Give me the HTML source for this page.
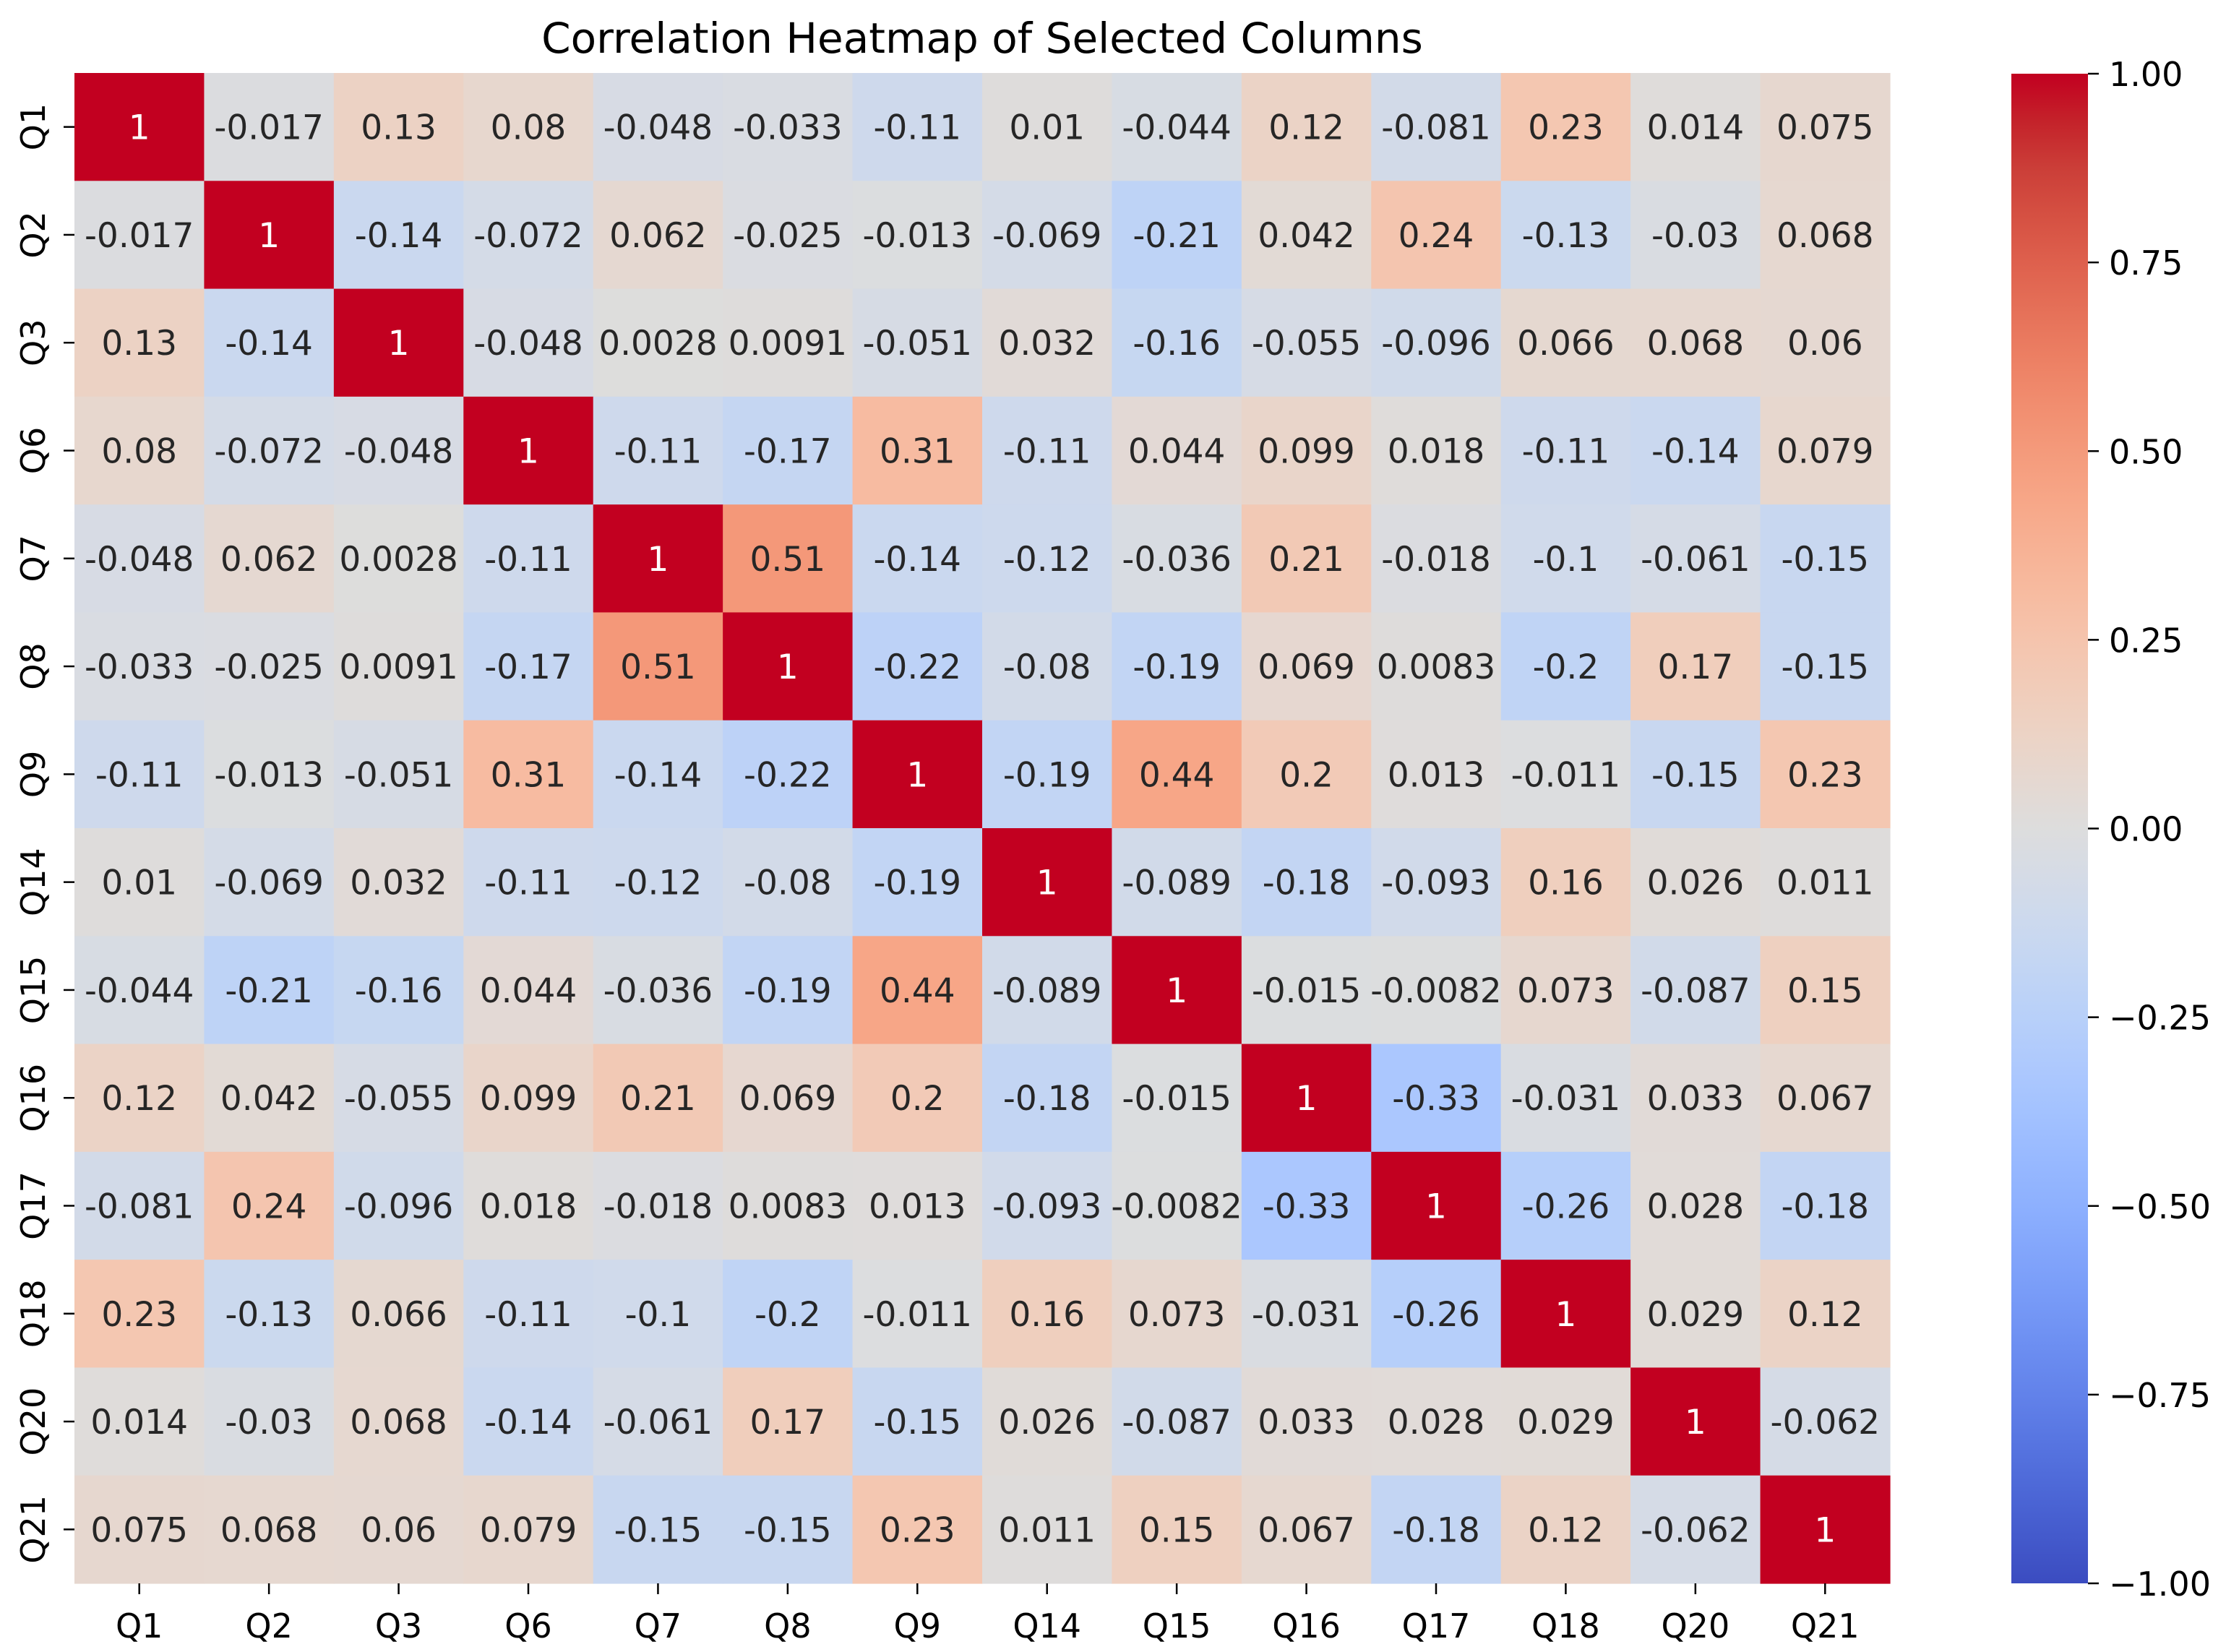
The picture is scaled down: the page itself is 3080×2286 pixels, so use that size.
<!DOCTYPE html>
<html><head><meta charset="utf-8"><style>
html,body{margin:0;padding:0;background:#fff;}
svg{display:block;font-family:"DejaVu Sans","Liberation Sans",sans-serif;}
</style></head><body>
<svg id="chart" width="3080" height="2286" viewBox="0 0 3080 2286" xmlns="http://www.w3.org/2000/svg">
<text x="1359" y="73" font-size="58" text-anchor="middle" fill="#000">Correlation Heatmap of Selected Columns</text>
<g id="cells"></g><g id="xaxis"></g><g id="yaxis"></g>
<defs><linearGradient id="cbgrad" x1="0" y1="1" x2="0" y2="0"></linearGradient></defs>
<rect x="2783" y="102" width="106" height="2089" fill="url(#cbgrad)"/>
<g id="cbaxis"></g>
</svg>
<script>
const labels = ["Q1","Q2","Q3","Q6","Q7","Q8","Q9","Q14","Q15","Q16","Q17","Q18","Q20","Q21"];
const row0 = [1,-0.017,0.13,0.08,-0.048,-0.033,-0.11,0.01,-0.044,0.12,-0.081,0.23,0.014,0.075];
const row1 = [-0.017,1,-0.14,-0.072,0.062,-0.025,-0.013,-0.069,-0.21,0.042,0.24,-0.13,-0.03,0.068];
const row2 = [0.13,-0.14,1,-0.048,0.0028,0.0091,-0.051,0.032,-0.16,-0.055,-0.096,0.066,0.068,0.06];
const row3 = [0.08,-0.072,-0.048,1,-0.11,-0.17,0.31,-0.11,0.044,0.099,0.018,-0.11,-0.14,0.079];
const row4 = [-0.048,0.062,0.0028,-0.11,1,0.51,-0.14,-0.12,-0.036,0.21,-0.018,-0.1,-0.061,-0.15];
const row5 = [-0.033,-0.025,0.0091,-0.17,0.51,1,-0.22,-0.08,-0.19,0.069,0.0083,-0.2,0.17,-0.15];
const row6 = [-0.11,-0.013,-0.051,0.31,-0.14,-0.22,1,-0.19,0.44,0.2,0.013,-0.011,-0.15,0.23];
const row7 = [0.01,-0.069,0.032,-0.11,-0.12,-0.08,-0.19,1,-0.089,-0.18,-0.093,0.16,0.026,0.011];
const row8 = [-0.044,-0.21,-0.16,0.044,-0.036,-0.19,0.44,-0.089,1,-0.015,-0.0082,0.073,-0.087,0.15];
const row9 = [0.12,0.042,-0.055,0.099,0.21,0.069,0.2,-0.18,-0.015,1,-0.33,-0.031,0.033,0.067];
const row10 = [-0.081,0.24,-0.096,0.018,-0.018,0.0083,0.013,-0.093,-0.0082,-0.33,1,-0.26,0.028,-0.18];
const row11 = [0.23,-0.13,0.066,-0.11,-0.1,-0.2,-0.011,0.16,0.073,-0.031,-0.26,1,0.029,0.12];
const row12 = [0.014,-0.03,0.068,-0.14,-0.061,0.17,-0.15,0.026,-0.087,0.033,0.028,0.029,1,-0.062];
const row13 = [0.075,0.068,0.06,0.079,-0.15,-0.15,0.23,0.011,0.15,0.067,-0.18,0.12,-0.062,1];
const matrix = [row0,row1,row2,row3,row4,row5,row6,row7,row8,row9,row10,row11,row12,row13];
const cbTicks = [1,0.75,0.5,0.25,0,-0.25,-0.5,-0.75,-1];

const NS="http://www.w3.org/2000/svg";
const X0=103,Y0=101,W=2512,H=2090,N=labels.length,CW=W/N,CH=H/N;
const vmin=-1,vmax=1, CBT=102, CBB=2191;
const xs=i=>X0+i*CW, ys=i=>Y0+i*CH;
const cbY=v=>CBB-(v-vmin)/(vmax-vmin)*(CBB-CBT);
const cmap=[[59,76,192],[68,90,204],[77,104,215],[87,117,225],[98,130,234],[108,142,241],[119,154,247],[130,165,251],[141,176,254],[152,185,255],[163,194,255],[174,201,253],[184,208,249],[194,213,244],[204,217,238],[213,219,230],[221,221,221],[229,216,209],[236,211,197],[241,204,185],[245,196,173],[247,187,160],[247,177,148],[247,166,135],[244,154,123],[241,141,111],[236,127,99],[229,112,88],[222,96,77],[213,80,66],[203,62,56],[196,34,42],[194,0,32]];
function color(v){let t=(v-vmin)/(vmax-vmin);t=Math.max(0,Math.min(1,t));const p=t*(cmap.length-1),i=Math.min(Math.floor(p),cmap.length-2),f=p-i;const a=cmap[i],b=cmap[i+1];return a.map((c,k)=>Math.round(c+(b[k]-c)*f));}
function mk(tag,attrs,parent){const e=document.createElementNS(NS,tag);for(const k in attrs)e.setAttribute(k,attrs[k]);parent.appendChild(e);return e;}
function fmt(v){return String(Number(v.toPrecision(2)));}
const cells=document.getElementById('cells');
matrix.forEach((row,r)=>row.forEach((v,c)=>{
  const col=color(v);
  const rc=mk('rect',{x:xs(c),y:ys(r),width:CW+0.6,height:CH+0.6,fill:`rgb(${col})`},cells);
  
  
  const lum=(0.299*col[0]+0.587*col[1]+0.114*col[2]);
  const t=mk('text',{x:xs(c)+CW/2,y:ys(r)+CH/2+17,'font-size':47,'text-anchor':'middle',fill:lum<110?'#fff':'#262626'},cells);
  
  
  t.textContent=fmt(v);
}));
const xa=document.getElementById('xaxis'),ya=document.getElementById('yaxis');
labels.forEach((l,i)=>{
  const cx=xs(i)+CW/2;
  const tk=mk('line',{x1:cx,x2:cx,y1:Y0+H,y2:Y0+H+15,stroke:'#000','stroke-width':2.5},xa);
  
  
  const t=mk('text',{x:cx,y:2266,'font-size':46,'text-anchor':'middle',fill:'#000'},xa);
  
  
  t.textContent=l;
  const cy=ys(i)+CH/2;
  const tk2=mk('line',{x1:X0-15,x2:X0,y1:cy,y2:cy,stroke:'#000','stroke-width':2.5},ya);
  
  
  const t2=mk('text',{x:0,y:0,'font-size':46,'text-anchor':'middle',fill:'#000',transform:`translate(62,${cy}) rotate(-90)`},ya);
  
  
  t2.textContent=l;
});
const g=document.getElementById('cbgrad');
cmap.forEach((c,i)=>{mk('stop',{offset:(i/(cmap.length-1)),'stop-color':`rgb(${c})`},g);});
const cba=document.getElementById('cbaxis');
cbTicks.forEach(v=>{
  const y=cbY(v);
  const tk=mk('line',{x1:2889,x2:2904,y1:y,y2:y,stroke:'#000','stroke-width':2.5},cba);
  
  
  const t=mk('text',{x:2918,y:y+17,'font-size':46,fill:'#000'},cba);
  
  
  t.textContent=(v<0?'\u2212':'')+Math.abs(v).toFixed(2);
});
</script>
</body></html>
